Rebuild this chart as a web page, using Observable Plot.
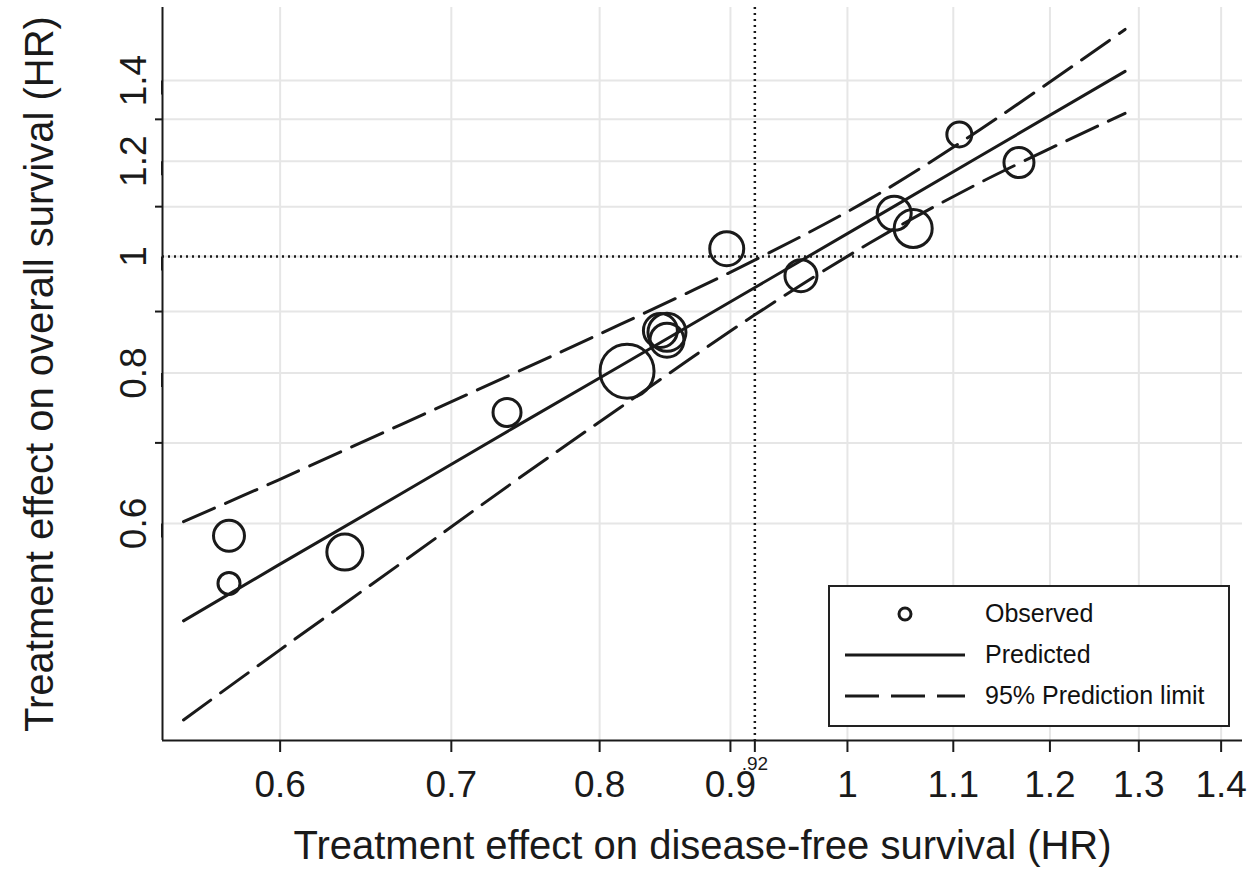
<!DOCTYPE html>
<html>
<head>
<meta charset="utf-8">
<script src="https://cdn.jsdelivr.net/npm/d3@7"></script>
<script src="https://cdn.jsdelivr.net/npm/@observablehq/plot@0.6"></script>
<style>
  html, body { margin: 0; padding: 0; background: #fff; }
  #wrap { position: relative; width: 1256px; height: 869px; font-family: "Liberation Sans", Arial, sans-serif; }
  #legend { position: absolute; left: 828px; top: 585px; width: 398px; height: 138px; border: 2px solid #222; background: #fff; }
  #legend .row { position: absolute; left: 0; width: 100%; height: 41px; display: flex; align-items: center; }
  #legend .sym { width: 150px; display: flex; justify-content: center; align-items: center; }
  #legend .lab { font-size: 25px; color: #111; margin-left: 5px; }
</style>
</head>
<body>
<div id="wrap"></div>
<script>
// ---- data ----
const xTicks = [0.6, 0.7, 0.8, 0.9, 1, 1.1, 1.2, 1.3, 1.4];
const yMajorTicks = [0.6, 0.8, 1, 1.2, 1.4];
const yMinorTicks = [0.7, 0.9, 1.1, 1.3];
const yGrid = [0.6, 0.7, 0.8, 0.9, 1, 1.1, 1.2, 1.3, 1.4];

// observed trials: HR on disease-free survival, HR on overall survival, relative weight (circle area)
const obsDFS = [0.573, 0.573, 0.636, 0.736, 0.820, 0.845, 0.850, 0.850, 0.897, 0.959, 1.043, 1.061, 1.106, 1.167];
const obsOS  = [0.586, 0.535, 0.568, 0.742, 0.803, 0.868, 0.865, 0.852, 1.015, 0.964, 1.086, 1.055, 1.263, 1.197];
const obsWeight = [240, 121, 324, 196, 729, 289, 361, 289, 289, 256, 289, 361, 156, 225];

// regression line and 95% prediction limits
const lineDFS = [0.550, 0.599, 0.669, 0.740, 0.815, 0.919, 1.021, 1.127, 1.284];
const predOS  = [0.498, 0.554, 0.635, 0.720, 0.811, 0.941, 1.072, 1.212, 1.425];
const upperOS = [0.602, 0.652, 0.725, 0.799, 0.878, 0.992, 1.117, 1.275, 1.544];
const lowerOS = [0.412, 0.470, 0.556, 0.649, 0.749, 0.893, 1.027, 1.152, 1.315];

const thresholdDFS = 0.92;
const thresholdLabel = ".92";
const nullHR = 1;

const xDomain = [0.5397, 1.4272];
const yDomain = [0.3961, 1.6102];

const xTitle = "Treatment effect on disease-free survival (HR)";
const yTitle = "Treatment effect on overall survival (HR)";

// ---- build tables ----
const observed = obsDFS.map((d, i) => ({dfs: d, os: obsOS[i], w: obsWeight[i]}));
const pred = lineDFS.map((d, i) => ({dfs: d, os: predOS[i]}));
const upper = lineDFS.map((d, i) => ({dfs: d, os: upperOS[i]}));
const lower = lineDFS.map((d, i) => ({dfs: d, os: lowerOS[i]}));

const ink = "#1a1a1a";
const gridColor = "#e6e6e6";

const chart = Plot.plot({
  width: 1256,
  height: 869,
  marginLeft: 162,
  marginRight: 14,
  marginTop: 7,
  marginBottom: 129,
  style: {fontFamily: '"Liberation Sans", Arial, sans-serif', background: "#fff", color: ink},
  x: {type: "log", domain: xDomain},
  y: {type: "log", domain: yDomain},
  r: {type: "sqrt", domain: [0, 729], range: [0, 27]},
  marks: [
    Plot.gridX(xTicks, {stroke: gridColor, strokeOpacity: 1, strokeWidth: 2}),
    Plot.gridY(yGrid, {stroke: gridColor, strokeOpacity: 1, strokeWidth: 2}),
    Plot.ruleX([thresholdDFS], {stroke: ink, strokeWidth: 2.5, strokeDasharray: "2,4"}),
    Plot.ruleY([nullHR], {stroke: ink, strokeWidth: 2.5, strokeDasharray: "2,4"}),
    Plot.line(upper, {x: "dfs", y: "os", stroke: ink, strokeWidth: 3, strokeDasharray: "34,12", curve: "catmull-rom"}),
    Plot.line(lower, {x: "dfs", y: "os", stroke: ink, strokeWidth: 3, strokeDasharray: "34,12", curve: "catmull-rom"}),
    Plot.line(pred, {x: "dfs", y: "os", stroke: ink, strokeWidth: 3}),
    Plot.dot(observed, {x: "dfs", y: "os", r: "w", stroke: ink, strokeWidth: 3, fill: "none"}),
    Plot.ruleX([xDomain[0]], {stroke: ink, strokeWidth: 2}),
    Plot.ruleY([yDomain[0]], {stroke: ink, strokeWidth: 2}),
    Plot.axisX(xTicks, {tickSize: 12, tickPadding: 18, fontSize: 37, strokeWidth: 2, tickFormat: d => String(d), label: null, fill: ink}),
    Plot.axisX([thresholdDFS], {tickSize: 12, tickPadding: 4, fontSize: 19, strokeWidth: 2, tickFormat: () => thresholdLabel, label: null, fill: ink}),
    Plot.axisY(yMajorTicks, {tickSize: 14, tickPadding: 3, fontSize: 37, strokeWidth: 2, rotate: -90, textAnchor: "middle", lineAnchor: "bottom", tickFormat: d => String(d), label: null, fill: ink}),
    Plot.axisY(yMinorTicks, {tickSize: 7, strokeWidth: 2, tickFormat: () => "", label: null}),
    Plot.text([xTitle], {frameAnchor: "bottom", dy: 106, fontSize: 40, lineAnchor: "middle", textAnchor: "middle", fill: ink}),
    Plot.text([yTitle], {frameAnchor: "left", dx: -122, rotate: -90, fontSize: 40, lineAnchor: "middle", textAnchor: "middle", fill: ink})
  ]
});

const wrap = document.getElementById("wrap");
wrap.appendChild(chart);

// legend
const legendItems = [
  {label: "Observed", kind: "circle"},
  {label: "Predicted", kind: "solid"},
  {label: "95% Prediction limit", kind: "dash"}
];
const legend = document.createElement("div");
legend.id = "legend";
legendItems.forEach((it, i) => {
  const row = document.createElement("div");
  row.className = "row";
  row.style.top = (6 + i * 41) + "px";
  let sym;
  if (it.kind === "circle") {
    sym = '<svg width="130" height="20"><circle cx="65" cy="10" r="6" fill="none" stroke="' + ink + '" stroke-width="3"/></svg>';
  } else if (it.kind === "solid") {
    sym = '<svg width="130" height="20"><line x1="5" x2="125" y1="10" y2="10" stroke="' + ink + '" stroke-width="3"/></svg>';
  } else {
    sym = '<svg width="130" height="20"><line x1="5" x2="125" y1="10" y2="10" stroke="' + ink + '" stroke-width="3" stroke-dasharray="34,12"/></svg>';
  }
  row.innerHTML = '<div class="sym">' + sym + '</div><div class="lab">' + it.label + '</div>';
  legend.appendChild(row);
});
wrap.appendChild(legend);
</script>
</body>
</html>
